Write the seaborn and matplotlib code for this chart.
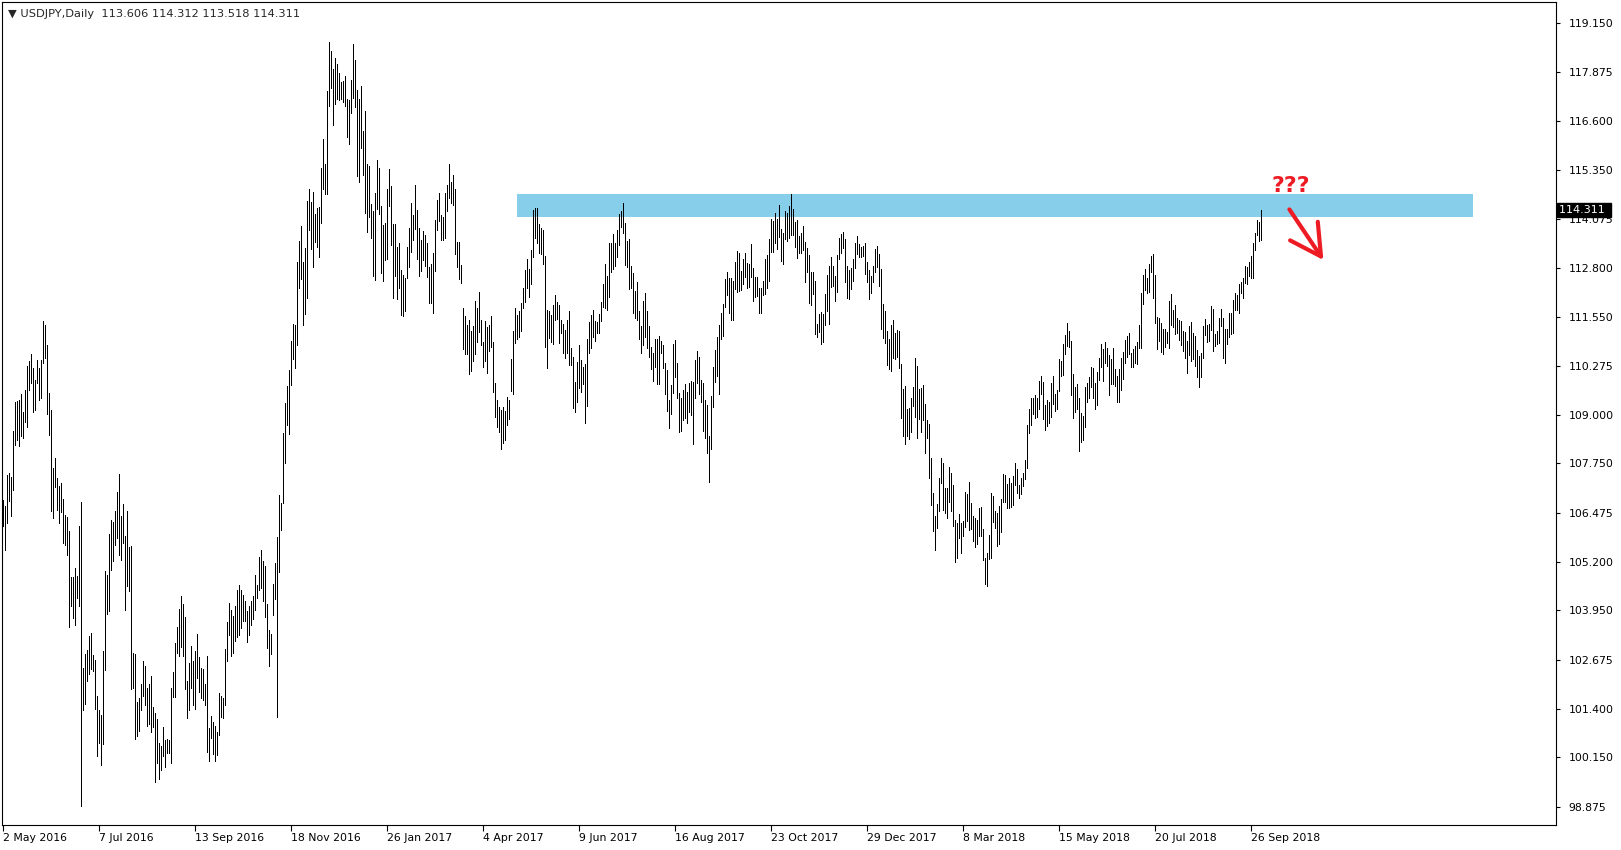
import pandas as pd
import seaborn as sns
import matplotlib.pyplot as plt
from matplotlib.patches import Rectangle, FancyArrowPatch

# daily USDJPY bars, one value per bar (high and low)
bar_high = [
    106.81, 106.64, 107.45, 107.50, 107.41, 108.59, 109.35, 109.37, 109.39, 109.54,
    109.07, 109.65, 110.26, 110.39, 110.58, 110.22, 109.91, 110.43, 110.22, 110.43,
    111.44, 111.33, 110.82, 109.57, 109.14, 107.63, 107.89, 107.37, 107.17, 107.24,
    106.82, 106.42, 106.36, 106.01, 104.82, 104.81, 105.04, 104.84, 106.14, 106.76,
    102.46, 102.82, 102.93, 103.29, 103.36, 102.80, 102.67, 101.74, 101.38, 101.25,
    102.89, 104.97, 104.86, 105.93, 106.29, 106.24, 106.53, 107.01, 107.48, 106.39,
    106.70, 105.88, 106.53, 105.60, 105.62, 102.84, 102.82, 101.57, 101.67, 102.05,
    102.65, 102.51, 101.94, 102.05, 102.26, 101.44, 101.29, 101.14, 100.51, 100.45,
    100.92, 100.60, 100.62, 100.60, 101.94, 102.36, 103.10, 103.53, 103.99, 104.31,
    104.12, 103.79, 102.11, 102.60, 103.04, 102.64, 102.89, 103.33, 102.74, 102.45,
    102.43, 102.05, 102.77, 100.90, 101.22, 101.07, 100.96, 100.81, 101.81, 101.74,
    101.67, 102.95, 103.66, 104.15, 103.96, 103.81, 104.07, 104.48, 104.60, 104.48,
    104.35, 104.20, 103.94, 104.07, 104.20, 104.31, 104.87, 104.61, 105.33, 105.51,
    105.22, 105.10, 104.12, 103.43, 103.34, 104.62, 105.18, 105.85, 106.93, 106.72,
    108.53, 109.32, 109.76, 110.16, 110.91, 111.36, 111.34, 112.96, 113.50, 113.88,
    112.96, 113.33, 114.54, 114.84, 114.51, 114.76, 114.20, 114.36, 114.39, 115.38,
    116.13, 115.50, 117.38, 118.65, 118.42, 117.96, 118.23, 118.07, 117.85, 117.61,
    117.63, 117.77, 117.17, 117.14, 117.67, 118.60, 118.19, 117.42, 117.17, 117.52,
    116.34, 116.87, 115.50, 115.44, 114.46, 114.28, 114.75, 115.59, 115.38, 114.40,
    113.91, 113.97, 114.86, 115.37, 114.92, 113.94, 113.94, 113.34, 113.44, 112.75,
    112.63, 112.55, 113.34, 113.84, 114.49, 114.17, 114.94, 114.31, 113.84, 113.53,
    113.76, 113.67, 113.45, 112.84, 112.90, 113.19, 114.05, 114.57, 114.75, 114.18,
    114.13, 114.75, 114.96, 115.50, 115.03, 115.20, 114.86, 113.48, 113.49, 112.87,
    111.78, 111.57, 111.34, 111.45, 111.17, 111.30, 111.94, 111.78, 112.18, 111.45,
    110.90, 111.43, 111.28, 111.34, 111.57, 110.88, 109.84, 109.38, 109.20, 109.12,
    109.20, 109.11, 109.47, 109.40, 110.45, 111.17, 111.78, 111.59, 111.69, 111.91,
    112.30, 112.75, 113.04, 112.78, 113.27, 114.30, 114.35, 114.35, 113.94, 113.83,
    113.79, 113.11, 111.72, 111.69, 111.59, 111.85, 112.11, 111.92, 111.85, 111.46,
    111.36, 111.20, 111.46, 111.69, 110.73, 110.49, 109.86, 110.38, 110.80, 110.43,
    110.25, 110.32, 110.97, 111.42, 111.59, 111.72, 111.43, 111.42, 111.61, 111.93,
    112.39, 112.92, 112.60, 113.46, 113.44, 113.68, 113.46, 113.79, 114.19, 114.28,
    114.49, 113.96, 113.50, 113.55, 112.86, 112.68, 112.22, 112.43, 111.69, 111.31,
    111.96, 112.17, 111.70, 111.31, 110.77, 110.60, 110.97, 110.96, 111.05, 110.92,
    110.81, 110.36, 110.17, 109.39, 109.78, 110.84, 110.94, 110.36, 109.56, 109.43,
    109.65, 109.80, 109.61, 109.84, 109.89, 109.86, 110.43, 110.67, 110.49, 109.91,
    109.82, 109.39, 109.26, 108.46, 109.49, 110.25, 110.68, 111.03, 111.33, 111.65,
    111.87, 112.53, 112.71, 112.55, 112.54, 112.47, 112.95, 113.24, 113.20, 112.73,
    113.04, 113.20, 112.94, 112.92, 113.42, 112.80, 112.58, 112.58, 112.30, 112.28,
    112.48, 113.04, 113.14, 113.55, 114.07, 114.02, 114.24, 114.07, 114.43, 113.81,
    113.72, 114.28, 114.22, 114.41, 114.72, 114.33, 114.00, 114.05, 113.64, 113.72,
    113.89, 113.48, 113.32, 113.14, 112.69, 112.69, 112.48, 111.36, 111.61, 111.66,
    111.61, 112.13, 112.62, 112.86, 113.08, 112.86, 112.61, 113.14, 113.57, 113.68,
    113.73, 113.55, 112.86, 112.74, 112.80, 113.05, 113.44, 113.63, 113.42, 113.34,
    113.37, 113.46, 112.95, 112.74, 112.60, 112.86, 113.30, 113.37, 113.17, 112.77,
    111.87, 111.69, 111.17, 110.96, 111.33, 111.46, 111.13, 111.20, 111.17, 110.32,
    109.67, 109.75, 109.17, 109.19, 109.43, 109.72, 110.47, 110.27, 109.67, 109.71,
    109.78, 109.29, 108.87, 108.76, 107.88, 106.99, 106.39, 106.70, 107.36, 107.88,
    107.75, 107.11, 107.11, 107.65, 107.49, 107.19, 106.29, 106.20, 106.43, 106.20,
    106.27, 107.02, 106.95, 107.26, 106.72, 106.39, 106.33, 106.29, 106.59, 106.61,
    106.05, 105.30, 105.44, 105.90, 106.98, 106.91, 106.52, 106.46, 106.65, 106.82,
    107.47, 107.44, 107.21, 107.36, 107.25, 107.42, 107.75, 107.60, 107.19, 107.36,
    107.49, 107.84, 108.74, 109.17, 109.43, 109.43, 109.52, 109.43, 109.88, 110.01,
    109.85, 109.26, 109.39, 109.33, 109.84, 110.01, 109.54, 109.65, 110.45, 110.40,
    110.84, 111.07, 111.37, 111.17, 110.91, 110.06, 109.73, 109.80, 109.43, 109.06,
    108.98, 109.73, 109.84, 109.99, 110.25, 110.23, 109.84, 110.12, 110.48, 110.84,
    110.70, 110.89, 110.74, 110.55, 110.45, 110.73, 110.19, 110.01, 110.19, 110.48,
    110.63, 110.94, 111.05, 111.13, 110.60, 110.71, 110.79, 110.90, 111.33, 112.17,
    112.62, 112.78, 112.54, 112.91, 113.11, 113.17, 112.62, 111.54, 111.50, 111.39,
    111.23, 111.23, 111.14, 111.95, 112.13, 111.72, 111.85, 111.50, 111.46, 111.43,
    111.17, 111.15, 110.91, 111.30, 111.41, 111.13, 111.04, 110.68, 110.54, 110.61,
    111.30, 111.48, 111.33, 111.35, 111.82, 111.74, 111.11, 111.17, 111.51, 111.74,
    111.50, 111.23, 111.23, 111.64, 111.64, 111.98, 112.15, 112.10, 112.39, 112.43,
    112.54, 112.85, 112.82, 112.96, 113.11, 113.46, 113.70, 114.04, 113.99, 114.31,
]
bar_low = [
    106.12, 105.51, 106.22, 106.77, 106.39, 107.07, 108.23, 108.36, 108.19, 108.46,
    108.42, 108.81, 108.70, 109.65, 109.82, 109.09, 109.14, 109.82, 109.38, 109.44,
    110.34, 110.47, 109.02, 108.49, 106.53, 106.33, 107.13, 106.55, 106.22, 106.50,
    105.70, 105.63, 105.39, 103.51, 104.05, 103.76, 103.56, 104.28, 104.05, 98.88,
    101.36, 101.52, 102.13, 102.31, 102.43, 102.39, 101.40, 100.17, 100.53, 99.95,
    100.50, 102.41, 103.86, 103.94, 105.00, 105.23, 105.63, 105.81, 105.39, 105.26,
    105.70, 103.96, 104.58, 104.44, 101.92, 101.93, 100.63, 100.71, 100.83, 101.38,
    101.74, 101.51, 100.96, 101.01, 100.80, 100.92, 99.51, 100.01, 99.59, 99.83,
    100.17, 99.91, 100.27, 100.26, 100.01, 101.72, 101.72, 102.84, 102.76, 103.01,
    102.76, 101.91, 101.16, 101.38, 101.94, 101.51, 101.39, 102.21, 101.85, 101.67,
    101.63, 101.51, 100.28, 100.06, 100.64, 100.24, 100.04, 100.21, 100.73, 101.19,
    101.16, 101.51, 102.63, 103.32, 102.77, 102.84, 103.16, 103.26, 103.32, 103.49,
    103.68, 103.68, 103.14, 103.32, 103.57, 103.72, 103.96, 104.27, 104.48, 104.53,
    104.18, 103.78, 102.97, 102.51, 102.82, 103.83, 104.24, 101.18, 104.93, 106.03,
    106.72, 107.76, 108.74, 108.51, 109.78, 110.44, 110.22, 110.82, 112.30, 112.53,
    111.32, 111.62, 112.03, 113.79, 113.30, 112.84, 113.48, 113.36, 113.10, 113.96,
    114.84, 114.71, 114.71, 117.00, 117.46, 116.51, 117.05, 117.17, 117.14, 117.17,
    117.09, 117.00, 116.19, 116.02, 116.82, 117.20, 116.97, 115.18, 115.03, 115.91,
    115.21, 114.23, 113.73, 114.13, 113.59, 112.59, 112.49, 114.34, 114.20, 112.67,
    112.47, 113.01, 113.05, 114.40, 113.40, 112.03, 112.61, 112.00, 112.29, 111.60,
    111.57, 111.69, 112.55, 112.84, 113.21, 113.53, 113.82, 113.05, 112.59, 112.72,
    113.01, 112.86, 112.57, 111.89, 111.89, 111.65, 112.72, 113.80, 114.02, 113.53,
    113.53, 113.58, 114.27, 114.62, 114.48, 114.43, 113.16, 112.84, 112.52, 112.41,
    110.70, 110.59, 110.57, 110.07, 110.13, 110.41, 110.57, 110.88, 111.15, 110.80,
    110.24, 110.41, 110.10, 110.65, 110.76, 109.61, 108.94, 108.68, 108.57, 108.11,
    108.28, 108.36, 108.74, 108.89, 109.63, 109.55, 110.86, 110.97, 111.03, 111.18,
    111.76, 111.93, 112.30, 112.06, 112.40, 113.10, 113.59, 113.44, 113.18, 113.16,
    112.90, 110.77, 110.21, 111.00, 110.90, 110.83, 111.46, 111.48, 110.86, 111.13,
    110.61, 110.47, 110.61, 110.30, 110.29, 109.19, 109.09, 109.35, 109.71, 109.61,
    109.80, 108.79, 109.24, 110.61, 110.73, 111.03, 110.92, 111.13, 111.13, 111.44,
    111.80, 111.78, 111.72, 112.06, 112.71, 112.77, 112.86, 113.10, 113.40, 113.86,
    113.70, 112.88, 112.84, 112.25, 112.28, 111.65, 111.52, 111.46, 110.98, 110.60,
    110.80, 111.03, 110.74, 110.51, 110.18, 109.89, 110.25, 109.80, 109.80, 110.61,
    110.23, 109.54, 109.11, 108.67, 109.02, 109.58, 109.99, 109.43, 108.57, 108.60,
    108.87, 108.92, 108.80, 109.09, 108.99, 108.24, 109.43, 109.84, 109.54, 109.35,
    108.60, 108.42, 108.01, 107.28, 108.11, 109.22, 109.86, 110.01, 109.54, 110.98,
    111.05, 111.80, 112.11, 111.63, 111.46, 111.46, 112.25, 112.19, 112.21, 112.24,
    112.39, 112.58, 112.30, 112.32, 112.58, 111.96, 112.05, 112.09, 111.65, 111.63,
    112.11, 112.13, 112.28, 112.48, 113.23, 113.23, 113.46, 113.30, 113.61, 112.99,
    112.91, 113.55, 113.50, 113.59, 113.66, 113.67, 113.36, 113.07, 113.20, 113.20,
    113.27, 112.45, 112.70, 111.91, 111.85, 112.14, 111.10, 111.03, 111.16, 110.83,
    110.90, 111.33, 111.70, 111.36, 112.32, 112.34, 111.96, 112.19, 113.04, 113.20,
    113.33, 112.43, 112.04, 112.00, 112.26, 112.48, 112.81, 113.17, 113.08, 113.10,
    113.12, 112.64, 112.45, 112.01, 112.15, 112.44, 112.69, 112.82, 112.35, 111.23,
    111.00, 110.87, 110.30, 110.19, 110.15, 110.47, 110.45, 110.49, 110.23, 108.93,
    108.47, 108.25, 108.46, 108.39, 108.57, 109.24, 108.96, 108.42, 108.89, 108.55,
    108.87, 108.01, 108.42, 107.38, 106.67, 106.01, 105.51, 106.07, 106.52, 107.25,
    106.55, 106.48, 106.35, 106.76, 106.52, 106.14, 105.21, 105.31, 105.83, 105.43,
    105.86, 106.11, 106.26, 106.03, 106.05, 105.75, 105.58, 105.66, 105.86, 105.87,
    105.24, 104.62, 104.59, 105.28, 105.30, 106.24, 106.09, 105.62, 105.66, 105.97,
    106.74, 106.76, 106.59, 106.59, 106.61, 106.67, 107.19, 106.98, 106.85, 106.95,
    107.17, 107.34, 107.64, 108.53, 108.74, 109.03, 108.93, 108.96, 109.17, 109.54,
    108.89, 108.61, 108.72, 108.80, 108.96, 109.29, 109.11, 109.16, 109.63, 110.02,
    110.04, 110.58, 110.79, 110.77, 109.52, 108.93, 109.09, 109.17, 108.08, 108.31,
    108.35, 108.70, 109.34, 109.45, 109.73, 109.43, 109.16, 109.26, 109.91, 110.25,
    109.89, 110.35, 110.27, 109.52, 109.80, 109.80, 109.76, 109.35, 109.35, 109.65,
    109.93, 110.35, 110.51, 110.57, 110.25, 110.25, 110.34, 110.32, 110.74, 110.74,
    111.88, 112.23, 112.17, 112.19, 112.69, 112.04, 111.37, 110.71, 110.92, 110.64,
    110.57, 110.77, 110.87, 110.73, 111.34, 111.29, 111.09, 111.13, 110.95, 110.80,
    110.66, 110.48, 110.08, 110.55, 110.41, 110.44, 110.28, 109.99, 109.73, 109.99,
    110.48, 111.07, 110.90, 110.92, 111.20, 110.66, 110.79, 110.83, 110.87, 111.31,
    110.48, 110.35, 110.83, 111.03, 111.09, 111.13, 111.73, 111.72, 111.63, 112.15,
    112.02, 112.41, 112.38, 112.60, 112.54, 112.54, 113.27, 113.66, 113.51, 113.52,
]

# date labels, MT4 puts one every 48 bars
date_labels = ["2 May 2016", "7 Jul 2016", "13 Sep 2016", "18 Nov 2016",
               "26 Jan 2017", "4 Apr 2017", "9 Jun 2017", "16 Aug 2017",
               "23 Oct 2017", "29 Dec 2017", "8 Mar 2018", "15 May 2018",
               "20 Jul 2018", "26 Sep 2018"]
price_ticks = [119.150, 117.875, 116.600, 115.350, 114.075, 112.800, 111.550,
               110.275, 109.000, 107.750, 106.475, 105.200, 103.950, 102.675,
               101.400, 100.150, 98.875]

last_ohlc = [113.606, 114.312, 113.518, 114.311]
zone_low, zone_high = 114.13, 114.72

# long form: two rows per bar so each bar is its own line
n = len(bar_high)
df = pd.DataFrame({
    "bar": list(range(n)) * 2,
    "price": bar_high + bar_low,
})

sns.set_style("white")
plt.rcParams["font.family"] = ["DejaVu Sans"]

fig = plt.figure(figsize=(16.21, 8.5), dpi=100)
ax = fig.add_axes([2 / 1621, 1 - 825 / 850, 1554 / 1621, 823 / 850])

# resistance zone
ax.add_patch(Rectangle((257, zone_low), 478, zone_high - zone_low,
                       facecolor="#87CEEB", edgecolor="none", zorder=1))

sns.lineplot(data=df, x="bar", y="price", units="bar", estimator=None,
             color="black", linewidth=0.55, antialiased=False, ax=ax, zorder=2)

ax.set_xlim(-0.5, 776.5)
ax.set_ylim(98.397, 119.685)
ax.set_xlabel("")
ax.set_ylabel("")

for s in ax.spines.values():
    s.set_visible(True)
    s.set_color("black")
    s.set_linewidth(0.8)

ax.set_xticks(range(0, 48 * len(date_labels), 48))
ax.set_xticklabels(date_labels, ha="left")
ax.set_yticks(price_ticks)
ax.set_yticklabels([f"{p:.3f}" for p in price_ticks])
ax.yaxis.tick_right()
ax.tick_params(axis="x", direction="out", length=4, width=0.8, labelsize=7.8,
               pad=2, bottom=True, colors="black")
ax.tick_params(axis="y", direction="out", length=3, width=0.8, labelsize=7.8,
               pad=6, right=True, left=False, colors="black")

# title in the corner
ax.text(0.004, 0.986,
        "\u25BC USDJPY,Daily  " + " ".join(f"{v:.3f}" for v in last_ohlc),
        transform=ax.transAxes, fontsize=8.2, va="center", ha="left")

# last price marker on the scale
ax.text(1.002, last_ohlc[3], f"{last_ohlc[3]:.3f} ",
        transform=ax.get_yaxis_transform(), fontsize=8, color="white",
        va="center", ha="left", clip_on=False, zorder=5,
        bbox=dict(boxstyle="square,pad=0.2", facecolor="black", edgecolor="black"))

# annotation
ax.text(644, 114.77, "???", color="#ED1C24", fontsize=16, fontweight="bold",
        ha="center", va="baseline")
ax.add_patch(FancyArrowPatch((643.2, 114.32), (660.2, 113.01),
                             arrowstyle="->,head_length=1.1,head_width=0.6",
                             mutation_scale=20, color="#ED1C24", lw=3,
                             shrinkA=0, shrinkB=0, zorder=4))

plt.savefig("out.png", dpi=100)
